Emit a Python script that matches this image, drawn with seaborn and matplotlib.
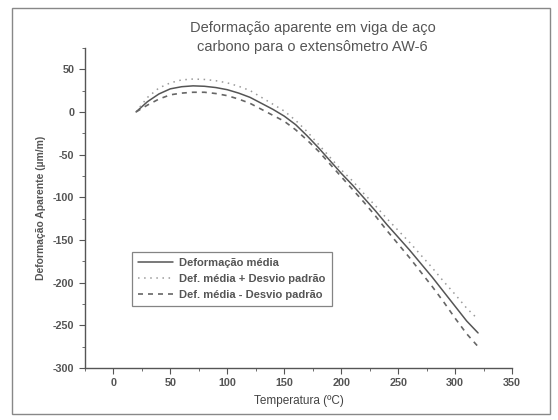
import seaborn as sns
import matplotlib.pyplot as plt
import matplotlib.patches as mpatches
from matplotlib.ticker import MultipleLocator

temp = [20, 30, 40, 50, 60, 70, 80, 90, 100, 110, 120, 130, 140, 150, 160,
        170, 180, 190, 200, 210, 220, 230, 240, 250, 260, 270, 280, 290, 300, 310, 320]
def_media = [0, 12, 21, 27, 29.5, 30.5, 30, 28.5, 26, 22, 17, 10, 3, -5, -15,
             -28, -42, -57, -72, -86, -101, -116, -132, -147, -162, -178, -194, -211, -228, -245, -259]
def_mais = [0, 17, 28, 34, 37.5, 38.5, 38, 36.5, 34, 30, 25, 17, 9, 1, -10,
            -23, -38, -53, -68, -81, -96, -110, -125, -139, -153, -168, -183, -199, -214, -230, -243]
def_menos = [0, 8, 15, 20, 22, 23, 23, 21.5, 19, 15, 10, 3, -4, -11, -21,
             -33, -46, -61, -76, -91, -106, -122, -139, -155, -171, -188, -205, -223, -242, -260, -275]

titulo = "Deformação aparente em viga de aço\ncarbono para o extensômetro AW-6"
rotulos = ["Deformação média", "Def. média + Desvio padrão", "Def. média - Desvio padrão"]

sns.set_style("ticks")
plt.rcParams['font.family'] = ['Liberation Sans', 'DejaVu Sans']
plt.rcParams['axes.unicode_minus'] = False

fig = plt.figure(figsize=(5.58, 4.2), dpi=100)
ax = fig.add_axes([0.152, 0.124, 0.766, 0.762])

sns.lineplot(x=temp, y=def_media, ax=ax, color='#555555', linewidth=1.1, label=rotulos[0])
sns.lineplot(x=temp, y=def_mais, ax=ax, color='#9a9a9a', linewidth=1.1, linestyle=(0, (1, 3)), label=rotulos[1])
sns.lineplot(x=temp, y=def_menos, ax=ax, color='#666666', linewidth=1.2, linestyle=(0, (3, 3)), label=rotulos[2])

ax.set_xlim(-25, 350)
ax.set_ylim(-300, 75)
ax.set_xticks(range(0, 351, 50))
ax.set_yticks(range(-300, 51, 50))
ax.xaxis.set_minor_locator(MultipleLocator(25))
ax.yaxis.set_minor_locator(MultipleLocator(25))
sns.despine(ax=ax)
for s in ['left', 'bottom']:
    ax.spines[s].set_color('#555555')
    ax.spines[s].set_linewidth(1.0)
ax.tick_params(which='major', direction='out', length=4, color='#555555',
               labelsize=7.8, labelcolor='#555555')
ax.tick_params(which='minor', direction='out', length=2.5, color='#555555')
for lb in ax.get_xticklabels() + ax.get_yticklabels():
    lb.set_fontweight('bold')

ax.set_xlabel("Temperatura (ºC)", fontsize=8.5, color='#444444', labelpad=5)
ax.set_ylabel("Deformação Aparente (µm/m)", fontsize=7.5, color='#555555', fontweight='bold', labelpad=5)

fig.text(0.56, 0.95, titulo, ha='center', va='top', fontsize=10.5, color='#555555', linespacing=1.5)

leg = ax.legend(loc='upper left', bbox_to_anchor=(0.11, 0.3625), fontsize=8, frameon=True,
                fancybox=False, edgecolor='#666666', handlelength=3.2, borderpad=0.55,
                labelspacing=0.55, borderaxespad=0, handletextpad=0.5)
leg.get_frame().set_linewidth(0.9)
for t in leg.get_texts():
    t.set_color('#555555')
    t.set_fontweight('bold')

fig.patches.append(mpatches.Rectangle((12 / 558, 1 - 414 / 420), 538 / 558, 406 / 420,
                                      transform=fig.transFigure, fill=False,
                                      edgecolor='#888888', linewidth=1.0))

fig.savefig("out.png", dpi=100)
